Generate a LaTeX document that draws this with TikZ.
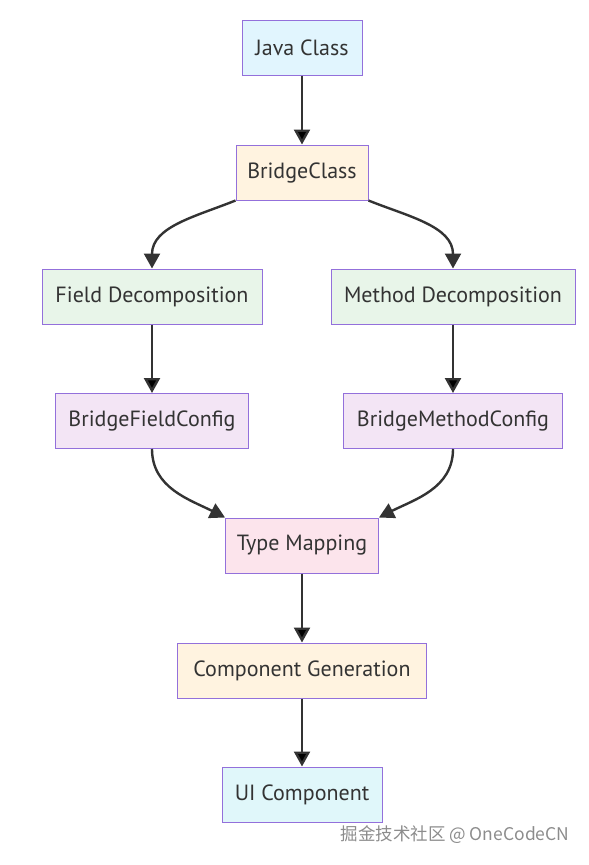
\documentclass[tikz,border=0pt]{standalone}
\usepackage{fontspec}
\setmainfont{PT Sans}
\newfontfamily\cjk{Noto Sans CJK SC}
\usetikzlibrary{arrows.meta}
\definecolor{boxline}{HTML}{9370DB}
\definecolor{ink}{HTML}{333333}
\definecolor{fblue}{HTML}{E1F5FE}
\definecolor{forange}{HTML}{FFF3E0}
\definecolor{fgreen}{HTML}{E8F5E9}
\definecolor{fpurple}{HTML}{F3E5F5}
\definecolor{fpink}{HTML}{FCE4EC}
\definecolor{fcyan}{HTML}{E0F7FA}
\begin{document}
\begin{tikzpicture}[
    x=1pt,
    y=1pt,
    font=\fontsize{22}{26}\selectfont,
    v/.style={draw=boxline, line width=1pt, minimum height=55pt, inner sep=0pt, text=ink},
    e/.style={draw=ink, line width=2.4pt, -{Triangle[length=15pt, width=16pt]}},
]
    \useasboundingbox (0, 0) rectangle (589, -865);

    \node[v, fill=fblue, minimum width=120pt] (java) at (302, -47.5) {Java Class};
    \node[v, fill=forange, minimum width=132pt] (bridge) at (302, -172.5) {BridgeClass};
    \node[v, fill=fgreen, minimum width=220pt] (fdec) at (152, -296.5) {Field Decomposition};
    \node[v, fill=fgreen, minimum width=244pt] (mdec) at (453, -296.5) {Method Decomposition};
    \node[v, fill=fpurple, minimum width=193pt] (fcfg) at (152, -421) {BridgeFieldConfig};
    \node[v, fill=fpurple, minimum width=219pt] (mcfg) at (453, -421) {BridgeMethodConfig};
    \node[v, fill=fpink, minimum width=153pt] (tmap) at (302, -545.5) {Type Mapping};
    \node[v, fill=forange, minimum width=249pt] (cgen) at (302, -670.5) {Component Generation};
    \node[v, fill=fcyan, minimum width=160pt] (ui) at (302, -794.5) {UI Component};
    \node[text=gray!90, font=\cjk\fontsize{17.5}{20}\selectfont] (mark) at (455, -835) {掘金技术社区 @ OneCodeCN};

    \path[e] (java) edge (bridge);
    \draw[e] (bridge.south west) to[out=202, in=90] (fdec.north);
    \draw[e] (bridge.south east) to[out=-22, in=90] (mdec.north);
    \path[e] (fdec) edge (fcfg);
    \path[e] (mdec) edge (mcfg);
    \draw[e] (fcfg.south) to[out=-90, in=153] (tmap.north west);
    \draw[e] (mcfg.south) to[out=-90, in=27] (tmap.north east);
    \path[e] (tmap) edge (cgen);
    \path[e] (cgen) edge (ui);
\end{tikzpicture}
\end{document}
